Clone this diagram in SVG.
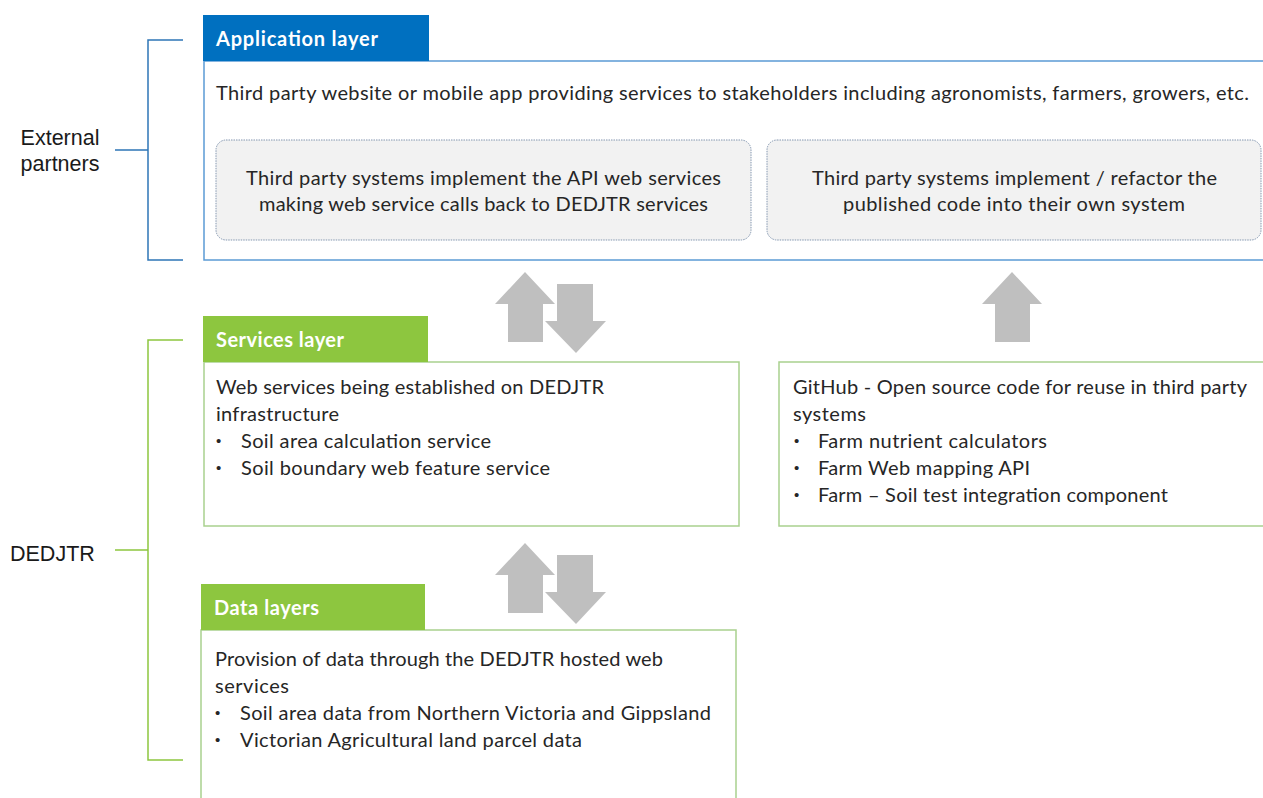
<svg xmlns="http://www.w3.org/2000/svg" width="1263" height="798" viewBox="0 0 1263 798">
<style>
.t{font-family:Lato,"Open Sans","Liberation Sans",sans-serif;font-size:20px;fill:#262626}
.b{font-family:"Liberation Sans",Arial,sans-serif;font-size:15px;fill:#262626}
.h{font-family:Lato,"Open Sans","Liberation Sans",sans-serif;font-size:20px;font-weight:bold;fill:#ffffff}
.side{font-family:"Liberation Sans",Arial,sans-serif;font-size:21.5px;fill:#1a1a1a}
.bb{fill:#ffffff;stroke:#5B9BD5;stroke-width:1.5}
.gb{fill:#ffffff;stroke:#A9D18E;stroke-width:1.5}
.inner{fill:#F2F2F2;stroke:#8497B0;stroke-width:1;stroke-dasharray:1.5 1}
.arr{fill:#BFBFBF}
.brB{fill:none;stroke:#2E75B6;stroke-width:1.5}
.brG{fill:none;stroke:#8DC63F;stroke-width:1.5}
</style>
<rect width="1263" height="798" fill="#ffffff"/>

<g id="brackets">
<path class="brB" d="M183,40 H148 V260 H183 M148,150 H115"/>
<path class="brG" d="M183,340 H148 V760 H183 M148,550 H115"/>
</g>
<g id="external-partners">
<text class="side" x="60" y="145" text-anchor="middle">External</text>
<text class="side" x="60" y="171" text-anchor="middle">partners</text>
</g>
<g id="dedjtr">
<text class="side" x="10" y="561">DEDJTR</text>
</g>

<g id="application-layer">
<rect class="bb" x="204" y="61" width="1070" height="199"/>
<rect x="203" y="15" width="226" height="46" fill="#0070C0"/>
<text class="h" x="216" y="46" textLength="162">Application layer</text>
<text class="t" x="216" y="100" textLength="1033">Third party website or mobile app providing services to stakeholders including agronomists, farmers, growers, etc.</text>
</g>
<g id="api-implement">
<rect class="inner" x="216" y="140" width="535" height="100" rx="10"/>
<text class="t" x="246" y="185" textLength="475">Third party systems implement the API web services</text>
<text class="t" x="259" y="211" textLength="449">making web service calls back to DEDJTR services</text>
</g>
<g id="code-refactor">
<rect class="inner" x="767" y="140" width="494" height="100" rx="10"/>
<text class="t" x="812" y="185" textLength="405">Third party systems implement / refactor the</text>
<text class="t" x="843" y="211" textLength="342">published code into their own system</text>
</g>

<g id="connectors">
<polygon class="arr" points="525,272 555,304 543,304 543,342 508,342 508,304 495,304"/>
<polygon class="arr" points="557,284 593,284 593,321 606,321 576,353 545,321 557,321"/>
<polygon class="arr" points="1012,272 1042,304 1030,304 1030,342 995,342 995,304 982,304"/>
<polygon class="arr" points="525,543 555,575 543,575 543,613 508,613 508,575 495,575"/>
<polygon class="arr" points="557,555 593,555 593,592 606,592 576,624 545,592 557,592"/>
</g>

<g id="services-layer">
<rect class="gb" x="204" y="362" width="535" height="164"/>
<rect x="203" y="316" width="225" height="46" fill="#8DC63F"/>
<text class="h" x="216" y="347" textLength="128">Services layer</text>
<text class="t" x="216" y="394" textLength="388">Web services being established on DEDJTR</text>
<text class="t" x="216" y="421" textLength="123">infrastructure</text>
<text class="b" x="216" y="446">•</text><text class="t" x="241" y="448" textLength="250">Soil area calculation service</text>
<text class="b" x="216" y="473">•</text><text class="t" x="241" y="475" textLength="309">Soil boundary  web feature service</text>
</g>

<g id="github">
<rect class="gb" x="779" y="362" width="495" height="164"/>
<text class="t" x="793" y="394" textLength="454">GitHub - Open source code for reuse in third party</text>
<text class="t" x="793" y="421" textLength="73">systems</text>
<text class="b" x="794" y="446">•</text><text class="t" x="818" y="448" textLength="229">Farm nutrient calculators</text>
<text class="b" x="794" y="473">•</text><text class="t" x="818" y="475" textLength="212">Farm Web mapping API</text>
<text class="b" x="794" y="500">•</text><text class="t" x="818" y="502" textLength="350">Farm – Soil test integration component</text>
</g>

<g id="data-layers">
<rect class="gb" x="201" y="630" width="535" height="180"/>
<rect x="201" y="584" width="224" height="46" fill="#8DC63F"/>
<text class="h" x="214" y="615" textLength="105">Data layers</text>
<text class="t" x="215" y="666" textLength="448">Provision of data through the DEDJTR hosted web</text>
<text class="t" x="215" y="693" textLength="74">services</text>
<text class="b" x="215" y="718">•</text><text class="t" x="240" y="720" textLength="471">Soil area data from  Northern  Victoria and Gippsland</text>
<text class="b" x="215" y="745">•</text><text class="t" x="240" y="747" textLength="342">Victorian Agricultural land parcel data</text>
</g>
</svg>
